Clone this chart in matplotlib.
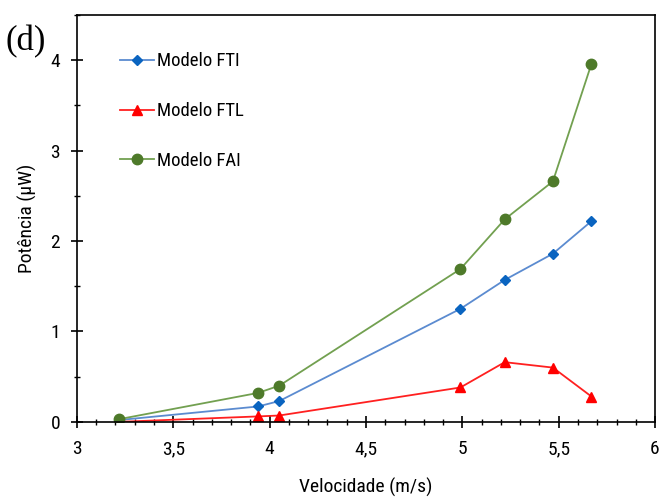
import matplotlib
matplotlib.use('Agg')
import matplotlib.pyplot as plt
from matplotlib.ticker import MultipleLocator

plt.rcParams['font.family'] = ['Roboto Condensed', 'Liberation Sans', 'DejaVu Sans']

velocidade = [3.22, 3.94, 4.05, 4.99, 5.22, 5.47, 5.67]
fti = [0.02, 0.17, 0.23, 1.25, 1.57, 1.86, 2.22]
ftl = [0.00, 0.06, 0.07, 0.38, 0.66, 0.60, 0.28]
fai = [0.03, 0.32, 0.40, 1.69, 2.24, 2.66, 3.96]

x_ticks = [3, 3.5, 4, 4.5, 5, 5.5, 6]
x_labels = ['3', '3,5', '4', '4,5', '5', '5,5', '6']
y_ticks = [0, 1, 2, 3, 4]

fig = plt.figure(figsize=(6.63, 5.01), dpi=100)
ax = fig.add_axes([0.116, 0.158, 0.872, 0.812])

ax.plot(velocidade, fti, color='#5B8BD0', lw=1.3, marker='D', ms=5.5,
        mfc='#0A64C0', mec='#0A64C0', label='Modelo FTI')
ax.plot(velocidade, ftl, color='#FF2020', lw=1.3, marker='^', ms=7,
        mfc='#FF0000', mec='#FF0000', label='Modelo FTL')
ax.plot(velocidade, fai, color='#72A050', lw=1.3, marker='o', ms=7.5,
        mfc='#4E7A2A', mec='#4E7A2A', label='Modelo FAI')

ax.set_xlim(3, 6)
ax.set_ylim(0, 4.5)
ax.set_xticks(x_ticks)
ax.set_xticklabels(x_labels)
ax.set_yticks(y_ticks)
ax.xaxis.set_minor_locator(MultipleLocator(0.1))
ax.yaxis.set_minor_locator(MultipleLocator(0.5))
ax.tick_params(which='major', direction='inout', length=8, width=1.2, labelsize=14)
ax.tick_params(axis='x', which='major', pad=9)
ax.tick_params(axis='y', which='major', pad=8)
ax.tick_params(which='minor', direction='inout', length=5, width=1)
for s in ax.spines.values():
    s.set_linewidth(1.2)

ax.set_xlabel('Velocidade (m/s)', fontsize=14, labelpad=14)
ax.set_ylabel('Potência (µW)', fontsize=14, labelpad=10)

ax.legend(loc='upper left', bbox_to_anchor=(0.045, 0.95), frameon=False,
          fontsize=13.5, labelspacing=1.7, handlelength=1.8, handletextpad=0.2)

fig.text(0.008, 0.90, '(d)', fontsize=25, family='Liberation Serif')

fig.savefig('out.png', dpi=100)
